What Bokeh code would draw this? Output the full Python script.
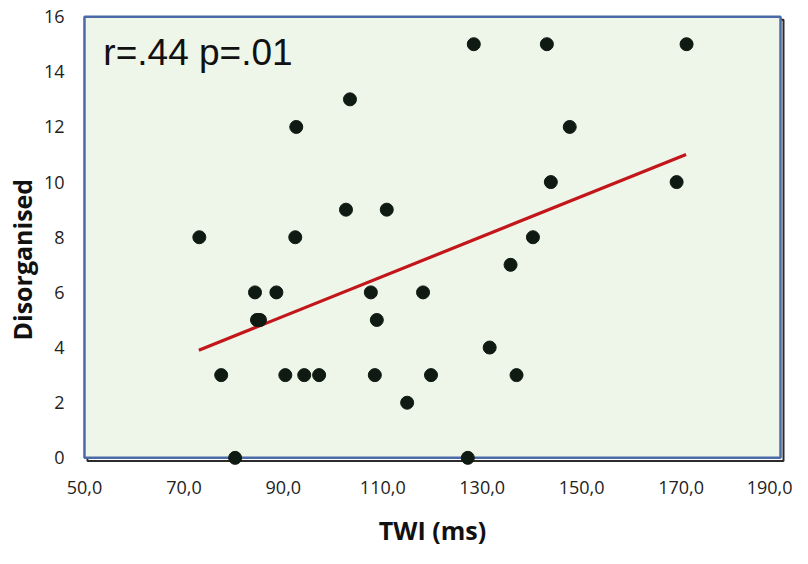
import numpy as np
from bokeh.plotting import figure
from bokeh.models import FixedTicker, Label, ColumnDataSource, Title
from bokeh.embed import file_html
from bokeh.resources import INLINE

# ---- data ----
twi = [73.1, 77.5, 80.3, 84.3, 84.7, 85.3, 88.6, 90.4, 92.6, 92.4, 94.2, 97.2,
       102.6, 103.4, 110.8, 107.6, 108.8, 108.4, 114.9, 118.1, 119.7, 127.1,
       128.3, 131.5, 135.7, 136.9, 140.2, 143.0, 143.8, 147.6, 169.1, 171.1]
disorganised = [8, 3, 0, 6, 5, 5, 6, 3, 12, 8, 3, 3,
                9, 13, 9, 6, 5, 3, 2, 6, 3, 0,
                15, 4, 7, 3, 8, 15, 10, 12, 10, 15]

fit_x = [73.0, 171.0]
fit_y = [3.9, 11.0]

x_ticks = [50, 70, 90, 110, 130, 150, 170, 190]
x_tick_labels = ["50,0", "70,0", "90,0", "110,0", "130,0", "150,0", "170,0", "190,0"]
y_ticks = [0, 2, 4, 6, 8, 10, 12, 14, 16]

x_axis_min, x_axis_max = 50, 190
y_axis_min, y_axis_max = 0, 16

annotation = "r=.44 p=.01"
x_title = "TWI (ms)"
y_title = "Disorganised"

# ---- figure ----
p = figure(width=792, height=562, output_backend="svg", toolbar_location=None,
           x_range=(49, 191), y_range=(-0.35, 16.15),
           min_border_left=78, min_border_right=7, min_border_top=12, min_border_bottom=95)
p.outline_line_color = None
p.background_fill_color = "white"
p.border_fill_color = "white"
p.grid.visible = False

# plot-area box with shadow
p.quad(left=[x_axis_min + 0.6], right=[x_axis_max + 0.6],
       bottom=[y_axis_min - 0.11], top=[y_axis_max - 0.11],
       fill_color=None, line_color="#2b2b2b", line_width=2)
p.quad(left=[x_axis_min], right=[x_axis_max], bottom=[y_axis_min], top=[y_axis_max],
       fill_color="#eef5e9", line_color="#4a6aa8", line_width=2.5)

# regression line
p.line(fit_x, fit_y, line_color="#c2161b", line_width=3.2)

# points
src = ColumnDataSource(dict(x=twi, y=disorganised))
p.scatter("x", "y", source=src, size=13, fill_color="#0f1a12", line_color="#0f1a12")

# axes
for ax in (p.xaxis[0], p.yaxis[0]):
    ax.axis_line_color = None
    ax.major_tick_line_color = None
    ax.minor_tick_line_color = None
    ax.major_label_text_font = "Open Sans"
    ax.major_label_text_font_size = "18px"
    ax.major_label_text_color = "#222222"

p.xaxis.ticker = FixedTicker(ticks=x_ticks)
p.xaxis.major_label_overrides = {t: l for t, l in zip(x_ticks, x_tick_labels)}
p.xaxis.major_label_standoff = 7
p.yaxis.ticker = FixedTicker(ticks=y_ticks)
p.yaxis.major_label_standoff = 9

# annotation text
p.add_layout(Label(x=53.8, y=14.7, text=annotation, text_font="Liberation Sans",
                   text_font_size="37px", text_color="#111111",
                   text_baseline="alphabetic", text_align="left"))

# axis titles
p.add_layout(Title(text=x_title, align="center", vertical_align="bottom",
                   text_font="Open Sans", text_font_style="bold", text_font_size="25px",
                   text_color="#111111", standoff=29), "below")
p.add_layout(Title(text=y_title, align="left", text_font="Open Sans",
                   text_font_style="bold", text_font_size="25px", text_color="#111111",
                   offset=127, standoff=4), "left")

open("out.html", "w").write(file_html(p, INLINE))
